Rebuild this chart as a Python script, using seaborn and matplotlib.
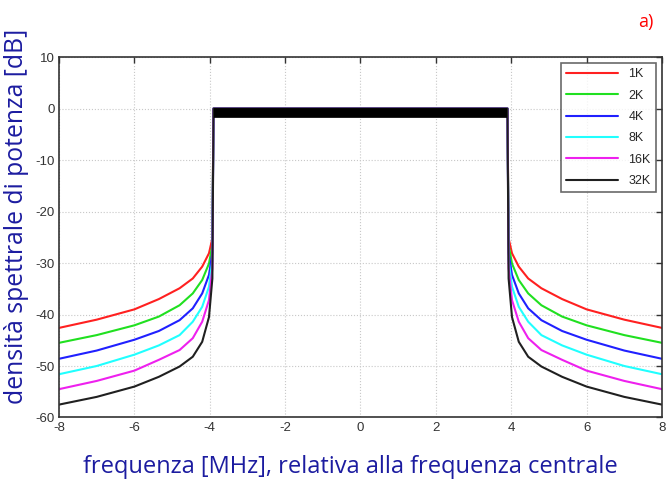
import seaborn as sns
import matplotlib.pyplot as plt
import pandas as pd

# frequency points [MHz]: left skirt, band, right skirt
freq = [-8, -7, -6, -5.35, -4.8, -4.45, -4.2, -4.02, -3.93, -3.9,
        3.9, 3.93, 4.02, 4.2, 4.45, 4.8, 5.35, 6, 7, 8]

# power spectral density [dB]
psd_1k = [-42.6, -41.0, -39.0, -37.0, -34.9, -33.0, -30.7, -28.1, -25.2, 0,
          0, -25.2, -28.1, -30.7, -33.0, -34.9, -37.0, -39.0, -41.0, -42.6]
psd_2k = [-45.5, -44.0, -42.1, -40.4, -38.2, -35.9, -33.3, -30.1, -26.5, 0,
          0, -26.5, -30.1, -33.3, -35.9, -38.2, -40.4, -42.1, -44.0, -45.5]
psd_4k = [-48.6, -47.0, -44.9, -43.2, -41.1, -38.8, -35.9, -32.3, -28.0, 0,
          0, -28.0, -32.3, -35.9, -38.8, -41.1, -43.2, -44.9, -47.0, -48.6]
psd_8k = [-51.6, -50.0, -47.8, -46.0, -44.0, -41.4, -38.5, -34.6, -29.5, 0,
          0, -29.5, -34.6, -38.5, -41.4, -44.0, -46.0, -47.8, -50.0, -51.6]
psd_16k = [-54.5, -52.9, -50.9, -48.8, -46.9, -44.6, -41.4, -37.2, -31.0, 0,
           0, -31.0, -37.2, -41.4, -44.6, -46.9, -48.8, -50.9, -52.9, -54.5]
psd_32k = [-57.5, -56.0, -54.0, -52.1, -50.1, -48.2, -45.3, -40.5, -33.0, 0,
           0, -33.0, -40.5, -45.3, -48.2, -50.1, -52.1, -54.0, -56.0, -57.5]

fft_sizes = ["1K", "2K", "4K", "8K", "16K", "32K"]
series = [psd_1k, psd_2k, psd_4k, psd_8k, psd_16k, psd_32k]
colors = ["#ff2020", "#20e020", "#2020ff", "#20ffff", "#ee20ee", "#202020"]

# in-band level of the thick black band
band_freq = [-3.9, 3.9]
band_level = [-0.8, -0.8]

rows = []
for name, vals in zip(fft_sizes, series):
    for f, v in zip(freq, vals):
        rows.append({"freq": f, "psd": v, "fft": name})
df = pd.DataFrame(rows)

sns.set_style("white")
plt.rcParams["axes.unicode_minus"] = False
fig = plt.figure(figsize=(6.68, 4.88), dpi=100)
ax = fig.add_axes([0.0883, 0.1445, 0.9027, 0.7385])

sns.lineplot(data=df, x="freq", y="psd", hue="fft", palette=colors,
             estimator=None, sort=False, linewidth=1.5, ax=ax)
ax.plot(band_freq, band_level, color="black", linewidth=7, solid_capstyle="butt")

ax.set_xlim(-8, 8)
ax.set_ylim(-60, 10)
ax.set_xticks(range(-8, 9, 2))
ax.set_yticks(range(-60, 11, 10))
ax.grid(True, linestyle=":", color="#c8c8c8", linewidth=0.8)
ax.tick_params(direction="in", top=True, right=True, length=4, width=1,
               labelsize=9.5, colors="#333333", pad=3)
for lab in ax.get_xticklabels() + ax.get_yticklabels():
    lab.set_family("Liberation Sans")
for s in ax.spines.values():
    s.set_color("#333333")
    s.set_linewidth(1.2)

ax.set_xlabel("frequenza [MHz], relativa alla frequenza centrale",
              fontsize=17, color="#1c1ca0", family="Open Sans")
ax.xaxis.set_label_coords(0.483, -0.105)
ax.set_ylabel("densità spettrale di potenza [dB]",
              fontsize=17.8, color="#1c1ca0", family="Open Sans")
ax.yaxis.set_label_coords(-0.05, 0.559)

leg = ax.legend(loc="upper right", frameon=True, fancybox=False,
                edgecolor="#444444", handlelength=4.2, borderaxespad=0.5,
                labelspacing=0.75, prop={"family": "Liberation Sans", "size": 9})
leg.get_frame().set_linewidth(1.2)

fig.text(0.955, 0.955, "a)", color="red", fontsize=13, family="Open Sans",
         ha="left", va="center")

fig.savefig("out.png", dpi=100)
